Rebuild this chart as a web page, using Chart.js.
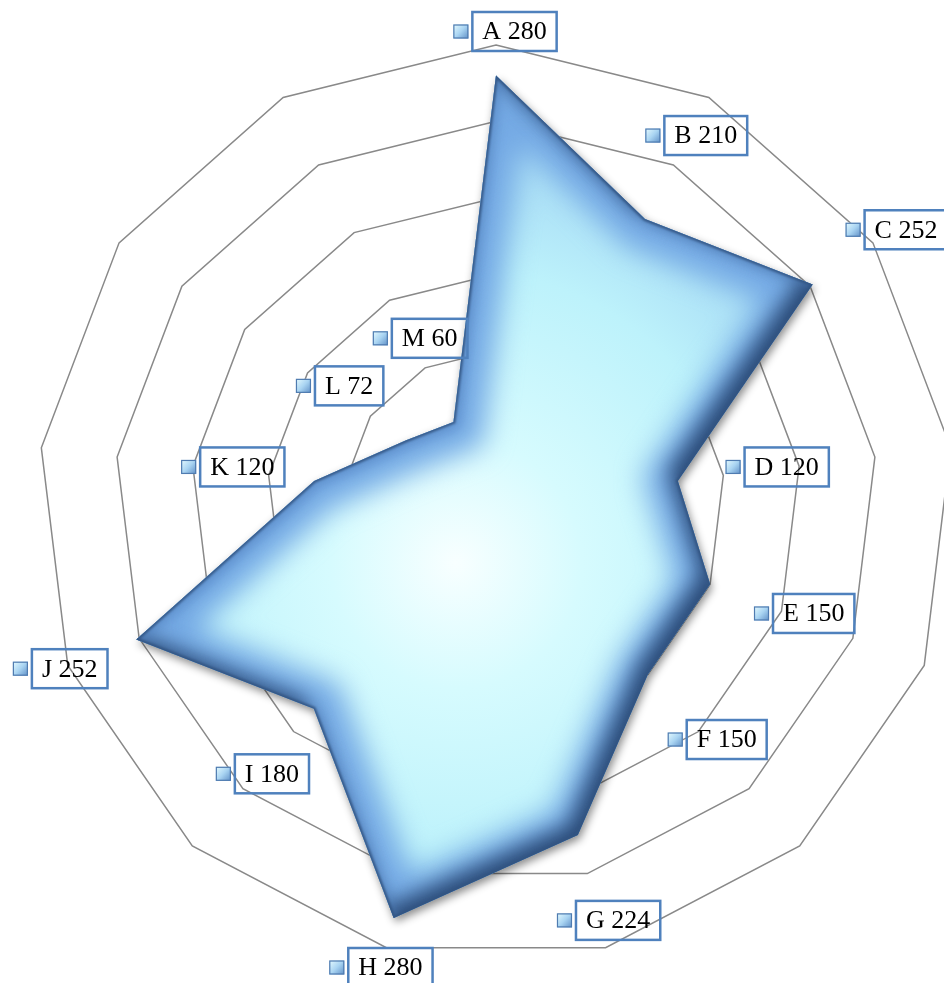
<!DOCTYPE html>
<html>
<head>
<meta charset="utf-8">
<script src="https://cdn.jsdelivr.net/npm/chart.js@4"></script>
<style>
  html, body { margin: 0; padding: 0; background: #fff; overflow: hidden; }
  #wrap { width: 960px; height: 983px; }
</style>
</head>
<body>
<div id="wrap"><canvas id="radar"></canvas></div>
<script>
const categories = ['A', 'B', 'C', 'D', 'E', 'F', 'G', 'H', 'I', 'J', 'K', 'L', 'M'];
const values = [280, 210, 252, 120, 150, 150, 224, 280, 180, 252, 120, 72, 60];
const scaleMax = 300;
const scaleStep = 50;

function tracePolygon(ctx, pts, dx = 0, dy = 0) {
  pts.forEach((p, i) => (i === 0 ? ctx.moveTo(p.x + dx, p.y + dy) : ctx.lineTo(p.x + dx, p.y + dy)));
  ctx.closePath();
}

// soft drop shadow under the shape, then a beveled blue rim inside it
const bevelPlugin = {
  id: 'bevel',
  beforeDatasetsDraw(chart) {
    const pts = chart.getDatasetMeta(0).data;
    const ctx = chart.ctx;
    ctx.save();
    ctx.shadowColor = 'rgba(0, 0, 0, 0.45)';
    ctx.shadowBlur = 8;
    ctx.shadowOffsetX = 2;
    ctx.shadowOffsetY = 4;
    ctx.beginPath();
    tracePolygon(ctx, pts);
    ctx.fillStyle = '#6f9fd6';
    ctx.fill();
    ctx.restore();
  },
  afterDatasetDraw(chart, args) {
    const pts = args.meta.data;
    const ctx = chart.ctx;
    const W = chart.width, H = chart.height;
    ctx.save();
    ctx.beginPath();
    tracePolygon(ctx, pts);
    ctx.clip();
    ctx.lineJoin = 'miter';

    // broad blue band along every edge
    ctx.filter = 'blur(14px)';
    ctx.strokeStyle = '#74a9e4';
    ctx.lineWidth = 64;
    ctx.beginPath();
    tracePolygon(ctx, pts);
    ctx.stroke();

    // shading on the edges that face down and right
    ctx.filter = 'blur(10px)';
    ctx.fillStyle = 'rgba(34, 64, 108, 0.9)';
    ctx.beginPath();
    ctx.rect(-W, -H, W * 3, H * 3);
    tracePolygon(ctx, pts, -10, -10);
    ctx.fill('evenodd');

    // lighter rim on the edges that face up and left
    ctx.filter = 'blur(6px)';
    ctx.fillStyle = 'rgba(84, 132, 194, 0.6)';
    ctx.beginPath();
    ctx.rect(-W, -H, W * 3, H * 3);
    tracePolygon(ctx, pts, 5, 5);
    ctx.fill('evenodd');

    // thin dark outline
    ctx.filter = 'blur(1px)';
    ctx.strokeStyle = 'rgba(50, 84, 130, 0.9)';
    ctx.lineWidth = 4;
    ctx.beginPath();
    tracePolygon(ctx, pts);
    ctx.stroke();
    ctx.restore();
  }
};

// value labels: small key square + outlined box, pushed outward from each vertex
const labelPlugin = {
  id: 'valueLabels',
  afterDatasetsDraw(chart) {
    const ctx = chart.ctx;
    const scale = chart.scales.r;
    const pts = chart.getDatasetMeta(0).data;
    const cx = scale.xCenter, cy = scale.yCenter;
    ctx.save();
    ctx.font = "26px 'Liberation Serif', 'Times New Roman', serif";
    ctx.textBaseline = 'middle';
    pts.forEach((p, i) => {
      const text = categories[i] + ' ' + values[i];
      const tw = ctx.measureText(text).width;
      const boxW = tw + 20, boxH = 39, key = 15, gap = 4;
      const totalW = key + gap + boxW;
      const dx = p.x - cx, dy = p.y - cy;
      const len = Math.hypot(dx, dy) || 1;
      let mx = p.x + dx / len * 91 + 9;
      let my = p.y + dy / len * 91 - 3;
      mx = Math.max(12 + totalW / 2, Math.min(948 - totalW / 2, mx));
      my = Math.max(12 + boxH / 2, Math.min(987 - boxH / 2, my));
      const left = mx - totalW / 2;
      const top = my - boxH / 2;

      // key square
      const kx = left, ky = my - 7;
      const g = ctx.createLinearGradient(kx, ky, kx + key, ky + 14);
      g.addColorStop(0, '#e6fbff');
      g.addColorStop(0.5, '#a9d4f2');
      g.addColorStop(1, '#5f8fc6');
      ctx.fillStyle = g;
      ctx.fillRect(kx, ky, key, 14);
      ctx.strokeStyle = '#4f7bb0';
      ctx.lineWidth = 1.2;
      ctx.strokeRect(kx + 0.5, ky + 0.5, key - 1, 13);

      // outlined box
      const bx = left + key + gap;
      ctx.strokeStyle = '#4f81bd';
      ctx.lineWidth = 2.5;
      ctx.strokeRect(bx, top, boxW, boxH);
      ctx.fillStyle = '#000';
      ctx.textAlign = 'left';
      ctx.fillText(text, bx + 10, my + 1);
    });
    ctx.restore();
  }
};

new Chart(document.getElementById('radar'), {
  type: 'radar',
  data: {
    labels: categories,
    datasets: [{
      data: values,
      fill: true,
      borderWidth: 0,
      pointRadius: 0,
      pointHoverRadius: 0,
      backgroundColor(context) {
        const chart = context.chart;
        const scale = chart.scales.r;
        if (!scale || scale.xCenter === undefined) return '#c4f6fb';
        const x = scale.xCenter - 40, y = scale.yCenter + 60;
        const g = chart.ctx.createRadialGradient(x, y, 0, x, y, 420);
        g.addColorStop(0, '#f8ffff');
        g.addColorStop(0.3, '#d6fbfe');
        g.addColorStop(0.7, '#bdf2fb');
        g.addColorStop(1, '#a4d8f4');
        return g;
      }
    }]
  },
  options: {
    responsive: true,
    maintainAspectRatio: false,
    animation: false,
    layout: { padding: { left: 38, top: 45, right: 6, bottom: 22 } },
    scales: {
      r: {
        min: 0,
        max: scaleMax,
        ticks: { stepSize: scaleStep, display: false },
        grid: { color: '#898989', lineWidth: 1.5 },
        angleLines: { display: false },
        pointLabels: { display: false }
      }
    },
    plugins: {
      legend: { display: false },
      tooltip: { enabled: false }
    }
  },
  plugins: [bevelPlugin, labelPlugin]
});
</script>
</body>
</html>
